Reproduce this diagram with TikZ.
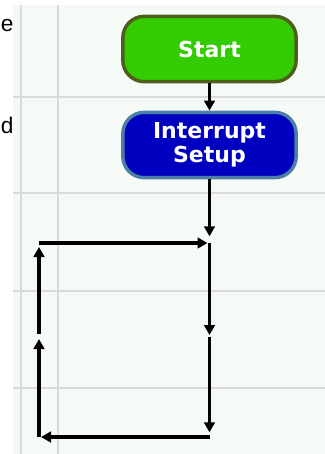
\documentclass[tikz,border=0pt]{standalone}
\usepackage{fontspec}
\setmainfont{Liberation Sans}
\newfontfamily\flowfont{DejaVu Sans}
\usepackage{tikz}
\usetikzlibrary{arrows.meta}

\definecolor{sheet}{HTML}{F5FAF7}
\definecolor{gridline}{HTML}{DADADA}
\definecolor{startfill}{HTML}{33CC00}
\definecolor{startedge}{HTML}{4E5E1C}
\definecolor{setupfill}{HTML}{0000C0}
\definecolor{setupedge}{HTML}{4C7EA6}

\tikzset{
  terminal/.style={draw, line width=2.6pt, rounded corners=16pt,
    minimum width=130pt, minimum height=49pt, text=white, align=center,
    font=\flowfont\bfseries\fontsize{16.5pt}{18pt}\selectfont},
  flow/.style={line width=2.8pt, -{Triangle[length=7.5pt, width=8pt]}},
}

\begin{document}
\begin{tikzpicture}[x=0.75pt, y=-0.75pt]
\useasboundingbox (0,0) rectangle (325,454);
\fill[sheet] (13,5) rectangle (325,454);

% grid of the sheet
\foreach \gx in {21,58}
  \draw[gridline, line width=1pt] (\gx,5) -- (\gx,454);
\foreach \gy in {97,193,291,388}
  \draw[gridline, line width=1pt] (13,\gy) -- (325,\gy);

% cut-off words at the left edge
\node[anchor=base west, inner sep=0pt, font=\fontsize{17pt}{20pt}\selectfont] (wordE) at (0.5,31) {e};
\node[anchor=base west, inner sep=0pt, font=\fontsize{17pt}{20pt}\selectfont] (wordD) at (0.5,133) {d};

\node[terminal, fill=startfill, draw=startedge] (start) at (209.5,49) {Start};
\node[terminal, fill=setupfill, draw=setupedge] (setup) at (209.5,145) {Interrupt\\Setup};

% loop corners
\coordinate (lt) at (39,243);
\coordinate (rt) at (209.5,243);
\coordinate (rm) at (209.5,337);
\coordinate (rb) at (209.5,437);
\coordinate (lb) at (39,437);
\coordinate (lm) at (39,337);

\draw[flow] (start) -- (setup);
\draw[flow, shorten >=5pt] (setup) -- (rt);
\draw[flow, shorten >=1.5pt] (rt) -- (rm);
\draw[flow, shorten >=3.5pt] (rm) -- (rb);
\draw[flow, shorten >=1.5pt] (rb) -- (lb);
\draw[flow, shorten >=1.5pt] (lb) -- (lm);
\draw[flow, shorten >=3pt] ([yshift=2.5pt]lm) -- (lt);
\draw[flow, shorten >=1.5pt] (lt) -- (rt);
\end{tikzpicture}
\end{document}
